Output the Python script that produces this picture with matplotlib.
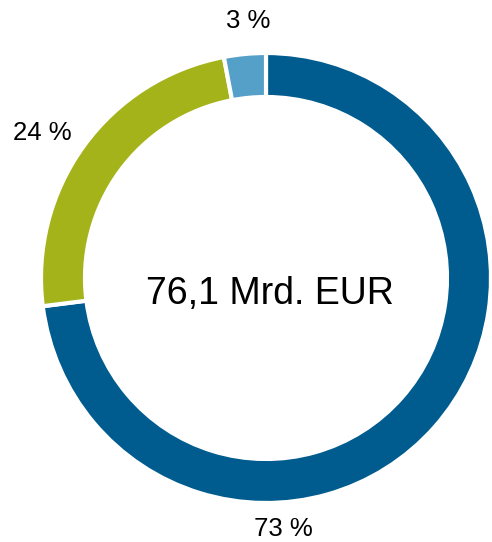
import matplotlib.pyplot as plt

# Anteile in Prozent
labels = ["73 %", "24 %", "3 %"]
shares = [73, 24, 3]
colors = ["#005b8e", "#a5b31a", "#55a0c8"]
total_text = "76,1 Mrd. EUR"

plt.rcParams['font.family'] = ['Liberation Sans', 'DejaVu Sans']

fig = plt.figure(figsize=(4.92, 5.42), dpi=100)
ax = fig.add_axes([0, 0, 1, 1])

# Ring in Pixel-Koordinaten (y nach oben)
cx, cy, r = 266, 264, 225
ax.pie(shares, colors=colors, startangle=90, counterclock=False,
       center=(cx, cy), radius=r,
       wedgeprops={'width': 44, 'edgecolor': 'white', 'linewidth': 3})

ax.text(cx + 4, cy - 16, total_text, fontsize=27, ha='center', va='center')

# Beschriftungen
label_pos = [(283, 13), (42, 409), (248, 521)]
for (x, y), txt in zip(label_pos, labels):
    ax.text(x, y, txt, fontsize=18.5, ha='center', va='center')

ax.set_xlim(0, 492)
ax.set_ylim(0, 542)
ax.set_aspect('equal')
ax.axis('off')

fig.savefig("out.png", dpi=100)
